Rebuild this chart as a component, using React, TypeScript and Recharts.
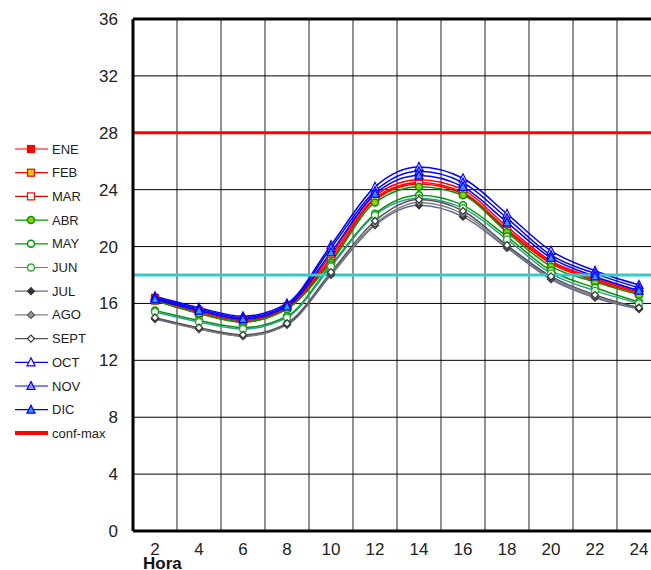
import React from 'react';
import { LineChart, Line, XAxis, YAxis, CartesianGrid, ReferenceLine } from 'recharts';

const hours = [2, 4, 6, 8, 10, 12, 14, 16, 18, 20, 22, 24];
const yTicks = [0, 4, 8, 12, 16, 20, 24, 28, 32, 36];
const vLines = [3, 5, 7, 9, 11, 13, 15, 17, 19, 21, 23];

const ene = [16.4, 15.5, 14.9, 15.8, 19.4, 23.6, 24.7, 24.0, 21.4, 19.0, 17.8, 16.9];
const feb = [16.3, 15.4, 14.8, 15.7, 19.2, 23.4, 24.5, 23.8, 21.2, 18.9, 17.7, 16.8];
const mar = [16.2, 15.3, 14.7, 15.7, 19.0, 23.3, 24.4, 23.7, 21.1, 18.8, 17.6, 16.7];
const abr = [16.2, 15.3, 14.7, 15.6, 18.9, 23.1, 24.2, 23.6, 21.0, 18.6, 17.5, 16.6];
const may = [15.5, 14.8, 14.3, 15.1, 18.7, 22.3, 23.6, 22.9, 20.7, 18.3, 17.1, 16.1];
const jun = [15.4, 14.7, 14.2, 15.0, 18.6, 22.2, 23.4, 22.7, 20.5, 18.1, 16.9, 16.0];
const jul = [14.9, 14.2, 13.7, 14.5, 18.0, 21.5, 22.9, 22.1, 19.9, 17.7, 16.4, 15.6];
const ago = [15.0, 14.2, 13.7, 14.6, 18.1, 21.6, 23.1, 22.3, 20.0, 17.8, 16.5, 15.7];
const sept = [15.0, 14.3, 13.8, 14.6, 18.2, 21.8, 23.3, 22.5, 20.1, 17.9, 16.6, 15.7];
const oct = [16.5, 15.7, 15.1, 16.0, 20.1, 24.2, 25.6, 24.8, 22.3, 19.7, 18.3, 17.3];
const nov = [16.4, 15.6, 15.0, 15.9, 19.9, 23.9, 25.3, 24.5, 22.0, 19.4, 18.1, 17.1];
const dic = [16.3, 15.5, 14.9, 15.8, 19.6, 23.7, 25.0, 24.2, 21.7, 19.2, 17.9, 16.9];

const confMax = 28;
const confMin = 18;

const series = [
  { key: 'ENE', values: ene, color: '#FF0000', shape: 'square', fill: '#FF0000', stroke: '#FF0000' },
  { key: 'FEB', values: feb, color: '#FF0000', shape: 'square', fill: '#FFC000', stroke: '#FF0000' },
  { key: 'MAR', values: mar, color: '#FF0000', shape: 'square', fill: '#FFFFFF', stroke: '#FF0000' },
  { key: 'ABR', values: abr, color: '#009900', shape: 'circle', fill: '#99CC00', stroke: '#009900' },
  { key: 'MAY', values: may, color: '#009900', shape: 'circle', fill: '#FFFFFF', stroke: '#009900' },
  { key: 'JUN', values: jun, color: '#339999', shape: 'circle', fill: '#FFFFFF', stroke: '#33AA33' },
  { key: 'JUL', values: jul, color: '#666699', shape: 'diamond', fill: '#333333', stroke: '#333333' },
  { key: 'AGO', values: ago, color: '#808080', shape: 'diamond', fill: '#999999', stroke: '#555555' },
  { key: 'SEPT', values: sept, color: '#555555', shape: 'diamond', fill: '#FFFFFF', stroke: '#333333' },
  { key: 'OCT', values: oct, color: '#0000FF', shape: 'triangle', fill: '#FFFFFF', stroke: '#0000FF' },
  { key: 'NOV', values: nov, color: '#0000FF', shape: 'triangle', fill: '#9999FF', stroke: '#0000FF' },
  { key: 'DIC', values: dic, color: '#0000FF', shape: 'triangle', fill: '#3399FF', stroke: '#0000FF' },
];

const data = hours.map((h, i) => {
  const row: any = { hour: h };
  series.forEach((s) => { row[s.key] = s.values[i]; });
  return row;
});

const font = '"Liberation Sans", Arial, sans-serif';

const Marker = ({ shape, cx, cy, fill, stroke, size = 7 }: any) => {
  const h = size / 2;
  if (shape === 'square') {
    return <rect x={cx - h} y={cy - h} width={size} height={size} fill={fill} stroke={stroke} strokeWidth={1.2} />;
  }
  if (shape === 'circle') {
    return <circle cx={cx} cy={cy} r={h} fill={fill} stroke={stroke} strokeWidth={1.5} />;
  }
  if (shape === 'diamond') {
    return <polygon points={`${cx},${cy - h} ${cx + h},${cy} ${cx},${cy + h} ${cx - h},${cy}`} fill={fill} stroke={stroke} strokeWidth={1.2} />;
  }
  return <polygon points={`${cx},${cy - h - 1} ${cx + h + 0.5},${cy + h} ${cx - h - 0.5},${cy + h}`} fill={fill} stroke={stroke} strokeWidth={1.2} />;
};

const LegendBox = () => (
  <svg width={130} height={450} style={{ position: 'absolute', left: 0, top: 0 }}>
    {series.map((s, i) => {
      const y = 149 + i * 23.7;
      return (
        <g key={s.key}>
          <line x1={15} x2={48} y1={y} y2={y} stroke={s.color} strokeWidth={1.2} />
          <Marker shape={s.shape} cx={31} cy={y} fill={s.fill} stroke={s.stroke} size={7} />
          <text x={52} y={y + 4.5} fontSize={13} fontFamily={font} fill="#222">{s.key}</text>
        </g>
      );
    })}
    <line x1={15} x2={48} y1={433} y2={433} stroke="#FF0000" strokeWidth={4} />
    <text x={52} y={437.5} fontSize={13} fontFamily={font} fill="#222">conf-max</text>
  </svg>
);

export default function App() {
  return (
    <div style={{ position: 'fixed', left: 0, top: 0, width: 651, height: 570, overflow: 'hidden', background: '#fff' }}>
      <LineChart width={680} height={570} data={data} margin={{ top: 19, right: 19, left: 73, bottom: 0 }}>
        <CartesianGrid horizontal={false} verticalValues={vLines} stroke="#555" strokeWidth={1.3} />
        <CartesianGrid vertical={false} stroke="#000" strokeWidth={1} />
        <XAxis
          dataKey="hour"
          type="number"
          domain={[1, 25]}
          ticks={hours}
          tickLine={false}
          tickSize={0}
          tickMargin={12}
          height={39}
          axisLine={{ stroke: '#000', strokeWidth: 3 }}
          tick={{ fontSize: 17, fill: '#222', fontFamily: font }}
          label={{
            content: ({ viewBox }: any) => (
              <text x={viewBox.x + 10} y={viewBox.y + 38} fontSize={17} fontWeight="bold" fontFamily={font} fill="#111">Hora</text>
            ),
          }}
        />
        <YAxis
          type="number"
          domain={[0, 36]}
          ticks={yTicks}
          width={60}
          tickLine={false}
          tickSize={0}
          tickMargin={15}
          axisLine={{ stroke: '#000', strokeWidth: 3 }}
          tick={{ fontSize: 17, fill: '#222', fontFamily: font }}
        />
        <ReferenceLine y={36} stroke="#000" strokeWidth={3} />
        <ReferenceLine y={confMax} stroke="#FF0000" strokeWidth={3} />
        {series.map((s) => (
          <Line
            key={s.key}
            type="monotone"
            dataKey={s.key}
            stroke={s.color}
            strokeWidth={1.5}
            isAnimationActive={false}
            dot={(p: any) => (
              <Marker key={`${s.key}-${p.index}`} shape={s.shape} cx={p.cx} cy={p.cy} fill={s.fill} stroke={s.stroke} size={7} />
            )}
            activeDot={false}
          />
        ))}
        <ReferenceLine y={confMin} stroke="#33CCCC" strokeWidth={3} />
      </LineChart>
      <LegendBox />
    </div>
  );
}
